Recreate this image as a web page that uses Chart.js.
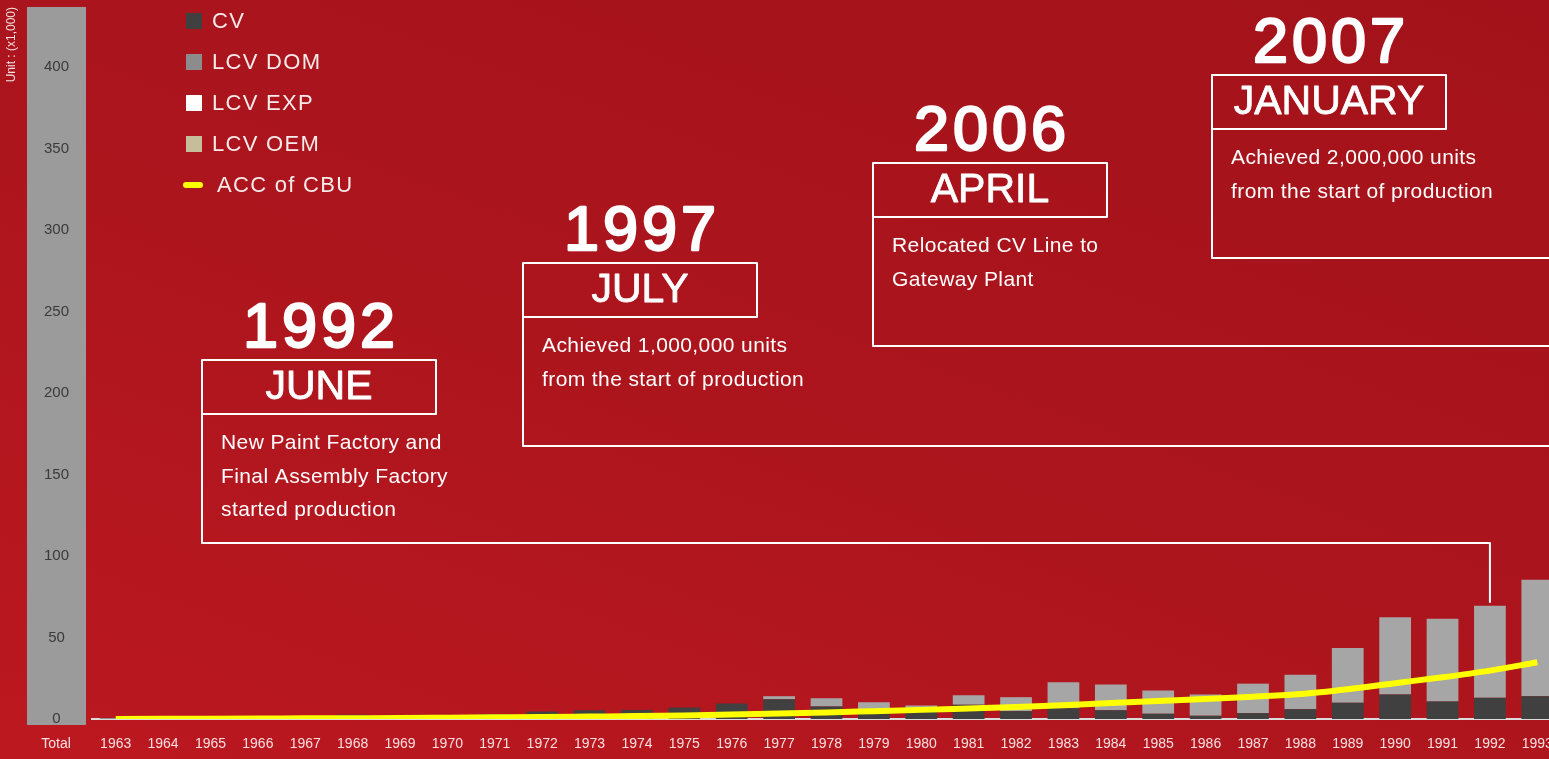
<!DOCTYPE html>
<html>
<head>
<meta charset="utf-8">
<title>Production by year</title>
<script src="https://cdn.jsdelivr.net/npm/chart.js@4.4.1/dist/chart.umd.min.js"></script>
<style>
  html, body { margin: 0; padding: 0; width: 1549px; height: 759px; overflow: hidden; }
  body {
    position: relative;
    background: linear-gradient(20deg, #bc1820 0%, #ad151d 45%, #a3121a 100%);
    font-family: "Liberation Sans", Arial, sans-serif;
  }
  #chart { position: absolute; left: 0; top: 0; }
  #legend { position: absolute; left: 183px; top: 0; }
  #legend .row { display: flex; align-items: center; height: 41.2px; color: #f6eaea; font-size: 22px; letter-spacing: 1.3px; }
  #legend .box { width: 16px; height: 16px; margin-left: 3px; margin-right: 10px; }
  #legend .bar { width: 20px; height: 6px; border-radius: 3px; margin-right: 14px; }
</style>
</head>
<body>
<canvas id="chart" width="1561" height="759"></canvas>
<div id="legend"></div>
<script>
// production, unit x1,000
const years = ['1963','1964','1965','1966','1967','1968','1969','1970','1971','1972',
  '1973','1974','1975','1976','1977','1978','1979','1980','1981','1982',
  '1983','1984','1985','1986','1987','1988','1989','1990','1991','1992','1993'];

const cv = [0.3, 0.6, 1.6, 1.7, 1.8, 2.6, 2.2, 2.2, 3.0, 4.6,
  5.4, 5.6, 7.0, 9.5, 12.1, 7.7, 5.0, 5.5, 8.7, 4.8,
  6.6, 5.4, 3.2, 2.0, 3.6, 6.0, 9.9, 15.0, 10.7, 13.0, 14.0];

const lcvDom = [0, 0, 0, 0, 0, 0, 0, 0, 0, 0,
  0, 0, 0, 0, 1.9, 5.0, 5.3, 2.8, 5.9, 8.6,
  15.9, 15.7, 14.3, 13.0, 18.1, 21.1, 33.7, 47.4, 50.9, 56.5, 71.5];

const lcvExp = years.map(() => 0);
const lcvOem = years.map(() => 0);

const accCbu = [0, 0.1, 0.2, 0.3, 0.4, 0.5, 0.6, 0.8, 1.0, 1.2,
  1.5, 1.8, 2.2, 2.7, 3.3, 4.0, 4.8, 5.6, 6.5, 7.4,
  8.5, 9.8, 11.0, 12.3, 13.7, 15.3, 18.3, 22.0, 25.6, 29.7, 34.8];

const yTicks = { min: 0, max: 437, step: 50 };

// milestones
const eventYears = ['1992', '1997', '2006', '2007'];
const eventMonths = ['JUNE', 'JULY', 'APRIL', 'JANUARY'];
const eventNotes = [
  ['New Paint Factory and', 'Final Assembly Factory', 'started production'],
  ['Achieved 1,000,000 units', 'from the start of production'],
  ['Relocated CV Line to', 'Gateway Plant'],
  ['Achieved 2,000,000 units', 'from the start of production']
];
const eventLinks = ['1992', null, null, null];

// where the boxes sit (top left of the month box)
const eventBoxes = [ { x: 202, y: 360 }, { x: 523, y: 263 }, { x: 873, y: 163 }, { x: 1212, y: 75 } ];

const FONT = '"Liberation Sans", Arial, sans-serif';

const totalBand = {
  id: 'totalBand',
  beforeDraw(chart) {
    const { ctx, chartArea, scales } = chart;
    ctx.save();
    ctx.fillStyle = '#9b9b9b';
    ctx.fillRect(27, scales.y.getPixelForValue(yTicks.max), 59, chartArea.bottom - chartArea.top + 6);
    ctx.fillStyle = 'rgba(255,240,240,0.92)';
    ctx.font = '14px ' + FONT;
    ctx.textAlign = 'center';
    ctx.textBaseline = 'middle';
    ctx.fillText('Total', 56, chartArea.bottom + 25.5);
    ctx.restore();
  }
};

const milestones = {
  id: 'milestones',
  afterDraw(chart) {
    const { ctx, scales } = chart;
    ctx.save();
    ctx.strokeStyle = '#ffffff';
    ctx.fillStyle = '#ffffff';
    ctx.lineJoin = 'round';
    eventBoxes.forEach((b, i) => {
      ctx.lineWidth = 2;
      ctx.strokeRect(b.x, b.y, 234, 54);

      let endX = chart.width + 10;
      ctx.beginPath();
      ctx.moveTo(b.x, b.y + 54);
      ctx.lineTo(b.x, b.y + 183);
      if (eventLinks[i]) {
        const idx = years.indexOf(eventLinks[i]);
        endX = scales.x.getPixelForValue(idx);
        const topY = scales.y.getPixelForValue(cv[idx] + lcvDom[idx]);
        ctx.lineTo(endX, b.y + 183);
        ctx.lineTo(endX, topY - 3);
      } else {
        ctx.lineTo(endX, b.y + 183);
      }
      ctx.stroke();

      ctx.textAlign = 'center';
      ctx.textBaseline = 'alphabetic';
      ctx.font = '63px ' + FONT;
      ctx.letterSpacing = '4px';
      ctx.lineWidth = 2.4;
      ctx.fillText(eventYears[i], b.x + 119, b.y - 13);
      ctx.strokeText(eventYears[i], b.x + 119, b.y - 13);
      ctx.letterSpacing = '0px';
      ctx.font = '41px ' + FONT;
      ctx.lineWidth = 0.8;
      ctx.fillText(eventMonths[i], b.x + 117, b.y + 39);
      ctx.strokeText(eventMonths[i], b.x + 117, b.y + 39);

      ctx.textAlign = 'left';
      ctx.font = '21px ' + FONT;
      ctx.letterSpacing = '0.4px';
      eventNotes[i].forEach((line, j) => {
        ctx.fillText(line, b.x + 19, b.y + 89 + j * 33.5);
      });
      ctx.letterSpacing = '0px';
    });
    ctx.restore();
  }
};

const chart = new Chart(document.getElementById('chart'), {
  type: 'bar',
  data: {
    labels: years,
    datasets: [
      { label: 'CV', data: cv, backgroundColor: '#404040', legendColor: '#404040', order: 1 },
      { label: 'LCV DOM', data: lcvDom, backgroundColor: '#a6a6a6', legendColor: '#8c8c8c', order: 1 },
      { label: 'LCV EXP', data: lcvExp, backgroundColor: '#ffffff', legendColor: '#ffffff', order: 1 },
      { label: 'LCV OEM', data: lcvOem, backgroundColor: '#c6be9b', legendColor: '#c6be9b', order: 1 },
      {
        type: 'line',
        label: 'ACC of CBU',
        data: accCbu,
        stack: 'acc',
        borderColor: '#ffff00',
        legendColor: '#ffff00',
        borderWidth: 6,
        pointRadius: 0,
        cubicInterpolationMode: 'monotone',
        order: 0
      }
    ]
  },
  options: {
    responsive: false,
    animation: false,
    layout: { padding: { top: 7, right: 0, bottom: 0, left: 0 } },
    datasets: {
      bar: { categoryPercentage: 1, barPercentage: 0.67 }
    },
    plugins: {
      legend: { display: false },
      tooltip: { enabled: false }
    },
    scales: {
      x: {
        stacked: true,
        grid: { display: false, drawTicks: false },
        border: { display: true, color: '#dcdcdc', width: 2 },
        ticks: {
          color: 'rgba(255,240,240,0.92)',
          font: { size: 14, family: FONT },
          padding: 17,
          maxRotation: 0,
          autoSkip: false
        },
        afterFit: (scale) => {
          scale.height = 40;
          scale.paddingLeft = 0;
          scale.paddingRight = 0;
        }
      },
      y: {
        stacked: true,
        min: yTicks.min,
        max: yTicks.max,
        grid: { display: false, drawTicks: false },
        border: { display: false },
        ticks: {
          stepSize: yTicks.step,
          includeBounds: false,
          crossAlign: 'center',
          padding: 23,
          color: '#3a3a3a',
          font: { size: 15, family: FONT }
        },
        title: {
          display: true,
          text: 'Unit : (x1,000)',
          align: 'end',
          color: '#f3e2e2',
          font: { size: 12, family: FONT },
          padding: { top: 4, bottom: 0 }
        },
        afterFit: (scale) => {
          scale.width = 92;
          scale.paddingTop = 0;
          scale.paddingBottom = 0;
        }
      }
    }
  },
  plugins: [totalBand, milestones]
});

// legend built from the datasets
const legend = document.getElementById('legend');
chart.data.datasets.forEach(ds => {
  const row = document.createElement('div');
  row.className = 'row';
  const sw = document.createElement('span');
  sw.className = ds.type === 'line' ? 'bar' : 'box';
  sw.style.background = ds.legendColor;
  const txt = document.createElement('span');
  txt.textContent = ds.label;
  row.appendChild(sw);
  row.appendChild(txt);
  legend.appendChild(row);
});
</script>
</body>
</html>
